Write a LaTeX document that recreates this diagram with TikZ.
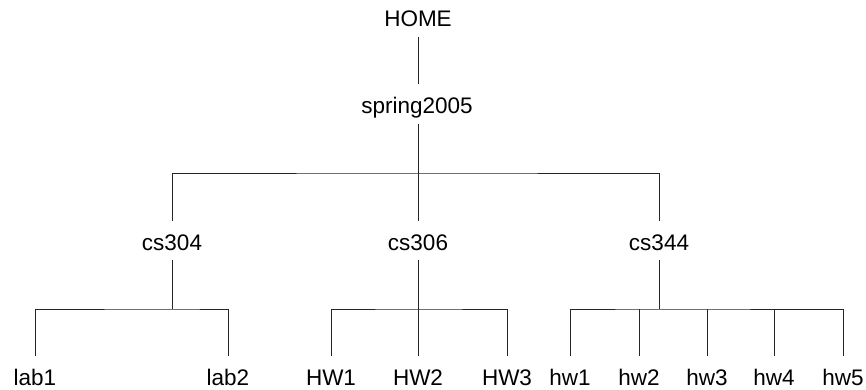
\documentclass[tikz,border=0pt]{standalone}
\usepackage{fontspec}
\setmainfont{Liberation Sans}
\begin{document}
\begin{tikzpicture}[x=1pt,y=1pt,
  lbl/.style={inner xsep=0pt, inner ysep=5pt, text height=24pt, text depth=5pt,
    font=\fontsize{22.5}{25}\selectfont, anchor=base},
  conn/.style={line width=0.9pt, black!85}]
\useasboundingbox (0,0) rectangle (866,-390);
% nodes
\node[lbl] (home) at (418,-26.5) {HOME};
\node[lbl] (spring) at (417,-113.5) {spring2005};
\node[lbl] (cs304) at (172,-250) {cs304};
\node[lbl] (cs306) at (418,-250) {cs306};
\node[lbl] (cs344) at (659,-250) {cs344};
\node[lbl] (lab1) at (35,-385.5) {lab1};
\node[lbl] (lab2) at (228,-385.5) {lab2};
\node[lbl] (HW1) at (331,-385.5) {HW1};
\node[lbl] (HW2) at (418,-385.5) {HW2};
\node[lbl] (HW3) at (507,-385.5) {HW3};
\node[lbl] (hw1) at (570,-385.5) {hw1};
\node[lbl] (hw2) at (639,-385.5) {hw2};
\node[lbl] (hw3) at (707,-385.5) {hw3};
\node[lbl] (hw4) at (774,-385.5) {hw4};
\node[lbl] (hw5) at (843,-385.5) {hw5};
% junctions
\coordinate (j1) at (418,-173);
\coordinate (j2) at (172,-309);
\coordinate (j3) at (418,-309);
\coordinate (j4) at (659,-309);
% connectors
\draw[conn] (home) -- (home |- spring.north);
\draw[conn] (j1 |- spring.south) -- (j1);
\draw[conn] (cs304.north) |- (j1) -| (cs344.north);
\draw[conn] (j1) -- (cs306);
\draw[conn] (cs304) -- (j2);
\draw[conn] (lab1.north) |- (j2) -| (lab2.north);
\draw[conn] (cs306) -- (j3);
\draw[conn] (HW1.north) |- (j3) -| (HW3.north);
\draw[conn] (j3) -- (HW2);
\draw[conn] (cs344) -- (j4);
\draw[conn] (hw1.north) |- (j4) -| (hw5.north);
\draw[conn] (hw2.north) -- (hw2.north |- j4);
\draw[conn] (hw3.north) -- (hw3.north |- j4);
\draw[conn] (hw4.north) -- (hw4.north |- j4);
\end{tikzpicture}
\end{document}
